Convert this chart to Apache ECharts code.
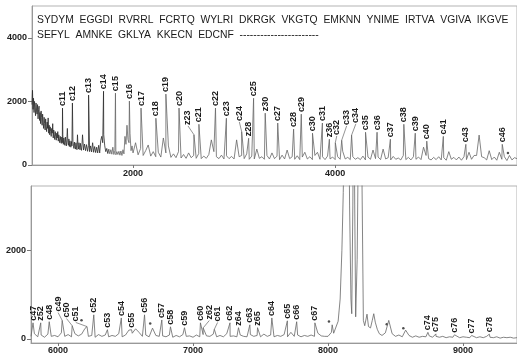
<!DOCTYPE html>
<html>
<head>
<meta charset="utf-8">
<script src="https://cdn.jsdelivr.net/npm/echarts@6/dist/echarts.min.js"></script>
<style>
  html, body { margin: 0; padding: 0; background: #fff; }
  #chart { width: 517px; height: 355px; }
</style>
</head>
<body>
<div id="chart"></div>
<script>
// Protein sequence printed above the upper spectrum
const seqLine1 = 'SYDYM  EGGDI  RVRRL  FCRTQ  WYLRI  DKRGK  VKGTQ  EMKNN  YNIME  IRTVA  VGIVA  IKGVE';
const seqLine2 = 'SEFYL  AMNKE  GKLYA  KKECN  EDCNF  -----------------------';

// Axis tick values
const topXTicks = [2000, 4000];
const topYTicks = [0, 2000, 4000];
const bottomXTicks = [6000, 7000, 8000, 9000];
const bottomYTicks = [0, 2000];

// Upper spectrum baseline, m/z 1000-1495 sampled every 5
const topNoiseStartA = 1000, topNoiseStepA = 5;
const topNoiseA = [
  1900, 2350, 1750, 2100, 1650, 2000, 1800, 1550, 1950, 1700,
  1600, 1900, 1450, 1750, 1850, 1400, 1650, 1300, 1700, 1500,
  1250, 1600, 1350, 1150, 1500, 1300, 1100, 1450, 1200, 1050,
  1350, 1150, 1480, 1000, 1250, 950, 1200, 1050, 900, 1150,
  1000, 1300, 850, 1100, 950, 800, 1050, 900, 780, 1000,
  850, 1050, 750, 950, 820, 700, 900, 760, 680, 880,
  700, 950, 650, 850, 720, 620, 880, 700, 600, 820,
  1150, 700, 620, 820, 580, 760, 650, 560, 740, 600,
  560, 740, 620, 520, 720, 580, 500, 700, 560, 480,
  950, 620, 500, 700, 560, 480, 680, 540, 460, 650
];
// Upper spectrum baseline, m/z 1500-1990 sampled every 10
const topNoiseStartA2 = 1500, topNoiseStepA2 = 10;
const topNoiseA2 = [
  950, 470, 660, 450, 640, 430, 620, 420, 600, 410,
  700, 400, 580, 390, 560, 380, 620, 380, 760, 900,
  700, 950, 600, 420, 520, 360, 500, 350, 480, 340,
  560, 330, 450, 320, 420, 330, 430, 310, 440, 300,
  480, 350, 900, 650, 1250, 800, 700, 1000, 450, 600
];
// Upper spectrum baseline, m/z 2000-5800 sampled every 25
const topNoiseStartB = 2000, topNoiseStepB = 25;
const topNoiseB = [
  380, 700, 320, 520, 300, 450, 630, 280,
  420, 260, 400, 250, 850, 380, 600, 240,
  350, 230, 420, 220, 330, 210, 380, 230,
  300, 210, 360, 200, 280, 210, 330, 790,
  420, 260, 200, 310, 190, 290, 200, 270,
  190, 790, 260, 300, 200, 350, 180, 280,
  190, 500, 210, 260, 180, 300, 190, 380,
  200, 280, 170, 310, 190, 470, 200, 260,
  180, 290, 170, 250, 400, 190, 260, 170,
  300, 400, 180, 260, 170, 280, 190, 250,
  170, 260, 180, 430, 190, 240, 170, 260,
  180, 230, 170, 280, 160, 250, 180, 470,
  200, 250, 170, 500, 190, 230, 160, 270,
  180, 220, 160, 300, 170, 240, 160, 260,
  180, 250, 170, 560, 300, 200, 160, 240,
  170, 260, 160, 230, 150, 420, 180, 240,
  160, 250, 150, 260, 170, 400, 180, 300,
  300, 940, 260, 230, 160, 450, 170, 250,
  150, 400, 180, 260, 140, 300, 160, 230,
  200
];
// Assigned fragment peaks: [name, m/z, intensity, label m/z, label intensity]
const topPeaks = [
  ['c11', 1302, 1790], ['c12', 1400, 1950], ['c13', 1560, 2200], ['c14', 1708, 2320],
  ['c15', 1826, 2260], ['c16', 1964, 2010], ['c17', 2079, 1790], ['c18', 2226, 1470],
  ['c19', 2325, 2230], ['c20', 2455, 1790], ['z23', 2603, 950, 2544, 1197],
  ['c21', 2652, 1280], ['c22', 2816, 1790], ['c23', 2924, 1470],
  ['c24', 3075, 1050, 3052, 1323], ['z28', 3144, 840], ['c25', 3193, 2100],
  ['z30', 3308, 1630], ['c27', 3432, 1320], ['c28', 3589, 1130], ['c29', 3665, 1600],
  ['c30', 3776, 1000], ['c31', 3874, 1320], ['z36', 3943, 810],
  ['c32', 4002, 700, 4016, 882], ['c33', 4065, 780, 4114, 1197],
  ['c34', 4163, 940, 4205, 1260], ['c35', 4301, 1030], ['c36', 4415, 1030],
  ['c37', 4547, 810], ['c38', 4680, 1280], ['c39', 4793, 1000], ['c40', 4907, 750],
  ['c41', 5071, 900], ['c43', 5294, 650], ['c46', 5654, 650]
];
const topStars = [[5710, 380]];

// Lower spectrum baseline, m/z 5800-8025 sampled every 25
const bottomNoiseStartA = 5800, bottomNoiseStepA = 25;
const bottomNoiseA = [
  60, 120, 50, 90, 40, 110, 60, 80,
  50, 140, 60, 100, 50, 120, 70, 110,
  240, 60, 80, 40, 100, 60, 90, 50,
  80, 60, 120, 50, 90, 200, 130, 230,
  150, 60, 90, 50, 245, 80, 60, 70,
  50, 90, 40, 80, 50, 100, 60, 70,
  40, 90, 50, 100, 70, 60, 110, 50,
  80, 50, 120, 60, 70, 50, 90, 60,
  50, 100, 60, 80, 50, 110, 60, 90,
  50, 80, 60, 100, 50, 150, 60, 90,
  50, 80, 60, 90, 60, 130, 70, 60,
  60, 150
];
// Off-scale precursor cluster, [m/z, intensity]
const bottomCluster = [
  [8031, 320], [8042, 130], [8055, 150], [8075, 400], [8090, 900], [8103, 2000],
  [8113, 3300], [8122, 5000], [8128, 6500], [8150, 6500], [8160, 3000], [8170, 900],
  [8176, 570], [8184, 3000], [8191, 6500], [8198, 3000], [8205, 500], [8216, 1800],
  [8228, 5500], [8240, 6500], [8252, 3500], [8262, 420], [8272, 300], [8289, 560],
  [8300, 280], [8315, 250], [8328, 420], [8339, 570], [8350, 380], [8365, 220],
  [8380, 120], [8392, 90]
];
// Lower spectrum baseline, m/z 8400-9400 sampled every 25
const bottomNoiseStartB = 8400, bottomNoiseStepB = 25;
const bottomNoiseB = [
  80, 140, 420, 120, 60, 90, 50, 200,
  80, 40, 70, 40, 60, 50, 70, 40,
  60, 40, 60, 30, 50, 40, 60, 30,
  50, 40, 30, 50, 30, 50, 30, 60,
  40, 30, 50, 20, 40, 30, 40, 20,
  30
];
const bottomPeaks = [
  ['c47', 5815, 365], ['z52', 5872, 365], ['c48', 5935, 390],
  ['c49', 6031, 420, 6001, 573], ['c50', 6105, 300, 6063, 439],
  ['c51', 6215, 280, 6132, 350], ['c52', 6265, 545], ['c53', 6366, 210],
  ['c54', 6469, 475], ['c55', 6545, 210], ['c56', 6641, 545], ['c57', 6769, 430],
  ['c58', 6833, 275], ['c59', 6937, 255], ['c60', 7055, 365],
  ['z62', 7075, 250, 7121, 395], ['c61', 7158, 220, 7182, 350],
  ['c62', 7274, 365], ['z64', 7337, 255], ['c63', 7421, 320], ['z65', 7478, 255],
  ['c64', 7584, 475], ['c65', 7699, 410], ['c66', 7768, 390], ['c67', 7903, 365],
  ['c74', 8740, 150], ['c75', 8799, 115], ['c76', 8937, 95], ['c77', 9064, 80],
  ['c78', 9195, 110]
];
const bottomStars = [[6174, 424], [6683, 350], [8007, 395], [8435, 330], [8558, 240]];

// ---- assemble traces ----
function sampled(start, step, values) {
  return values.map((v, i) => [start + i * step, v]);
}
function byMz(a, b) { return a[0] - b[0]; }

const topTrace = sampled(topNoiseStartA, topNoiseStepA, topNoiseA)
  .concat(sampled(topNoiseStartA2, topNoiseStepA2, topNoiseA2))
  .concat(sampled(topNoiseStartB, topNoiseStepB, topNoiseB))
  .concat(topPeaks.map(p => [p[1], p[2]]))
  .sort(byMz);

// the crowded low-mass region is drawn darker
const DARK_END = 1760;
const topTraceDense = topTrace.filter(p => p[0] <= DARK_END);
const topTraceRest = topTrace.filter(p => p[0] >= topTraceDense[topTraceDense.length - 1][0]);

const bottomTrace = sampled(bottomNoiseStartA, bottomNoiseStepA, bottomNoiseA)
  .concat(bottomCluster)
  .concat(sampled(bottomNoiseStartB, bottomNoiseStepB, bottomNoiseB))
  .concat(bottomPeaks.map(p => [p[1], p[2]]))
  .sort(byMz);

const FONT = '"Liberation Sans", Arial, sans-serif';
const TRACE = '#666';
const TRACE_DARK = '#2a2a2a';

function labelSeries(peaks, idx) {
  return {
    type: 'custom',
    xAxisIndex: idx, yAxisIndex: idx,
    silent: true,
    clip: false,
    z: 5,
    data: peaks.map(p => [p[1], p[2], p[3] != null ? p[3] : p[1], p[4] != null ? p[4] : p[2]]),
    renderItem: function (params, api) {
      const a = api.coord([api.value(0), api.value(1)]);
      const b = api.coord([api.value(2), api.value(3)]);
      const children = [];
      if (Math.abs(a[0] - b[0]) > 0.5 || Math.abs(a[1] - b[1]) > 0.5) {
        children.push({
          type: 'line',
          shape: { x1: a[0], y1: a[1], x2: b[0], y2: b[1] - 1 },
          style: { stroke: TRACE, lineWidth: 0.7 }
        });
      }
      children.push({
        type: 'text',
        x: b[0], y: b[1] - 2,
        rotation: Math.PI / 2,
        style: {
          text: peaks[params.dataIndex][0],
          font: 'bold 9px ' + FONT,
          fill: '#1a1a1a',
          align: 'left',
          verticalAlign: 'middle'
        }
      });
      return { type: 'group', children: children };
    }
  };
}

const plainNumber = v => String(v);

function xAxisCfg(gridIndex, min, max, ticks, margin) {
  return {
    gridIndex: gridIndex, type: 'value', min: min, max: max,
    axisLine: { show: true, onZero: false, lineStyle: { color: '#999', width: 1 } },
    axisTick: { show: true, customValues: ticks, length: 3, lineStyle: { color: '#777' } },
    axisLabel: { customValues: ticks, formatter: plainNumber, margin: margin, fontSize: 9, fontWeight: 'bold', color: '#222', fontFamily: FONT },
    splitLine: { show: false }
  };
}
function yAxisCfg(gridIndex, min, max, ticks) {
  return {
    gridIndex: gridIndex, type: 'value', min: min, max: max,
    axisLine: { show: true, onZero: false, lineStyle: { color: '#999', width: 1 } },
    axisTick: { show: true, customValues: ticks, length: 4, lineStyle: { color: '#777' } },
    axisLabel: { customValues: ticks, formatter: plainNumber, margin: 5, fontSize: 9, fontWeight: 'bold', color: '#222', fontFamily: FONT },
    splitLine: { show: false }
  };
}

const chart = echarts.init(document.getElementById('chart'), null, { renderer: 'canvas' });
chart.setOption({
  animation: false,
  backgroundColor: '#fff',
  grid: [
    { left: 32, top: 6, width: 488, height: 159, show: true, borderColor: '#b3b3b3', borderWidth: 1 },
    { left: 31, top: 186, width: 488, height: 159, show: true, borderColor: '#b3b3b3', borderWidth: 1 }
  ],
  xAxis: [
    xAxisCfg(0, 1000, 5800, topXTicks, 4),
    xAxisCfg(1, 5800, 9400, bottomXTicks, 3)
  ],
  yAxis: [
    yAxisCfg(0, 0, 5000, topYTicks),
    yAxisCfg(1, -90, 3450, bottomYTicks)
  ],
  graphic: [
    { type: 'text', x: 37, y: 20, style: { text: seqLine1, font: '10.35px ' + FONT, fill: '#1a1a1a', verticalAlign: 'middle' } },
    { type: 'text', x: 37, y: 35, style: { text: seqLine2, font: '10.35px ' + FONT, fill: '#1a1a1a', verticalAlign: 'middle' } }
  ],
  series: [
    {
      type: 'line', xAxisIndex: 0, yAxisIndex: 0, data: topTraceDense,
      symbol: 'none', clip: true, silent: true,
      lineStyle: { color: TRACE_DARK, width: 0.8 }
    },
    {
      type: 'line', xAxisIndex: 0, yAxisIndex: 0, data: topTraceRest,
      symbol: 'none', clip: true, silent: true,
      lineStyle: { color: TRACE, width: 0.8 }
    },
    {
      type: 'line', xAxisIndex: 1, yAxisIndex: 1, data: bottomTrace,
      symbol: 'none', clip: true, silent: true,
      lineStyle: { color: TRACE, width: 0.8 }
    },
    labelSeries(topPeaks, 0),
    labelSeries(bottomPeaks, 1),
    {
      type: 'scatter', xAxisIndex: 0, yAxisIndex: 0, data: topStars,
      symbol: 'circle', symbolSize: 2.5, itemStyle: { color: '#222' }, silent: true
    },
    {
      type: 'scatter', xAxisIndex: 1, yAxisIndex: 1, data: bottomStars,
      symbol: 'circle', symbolSize: 2.5, itemStyle: { color: '#222' }, silent: true
    }
  ]
});
</script>
</body>
</html>
